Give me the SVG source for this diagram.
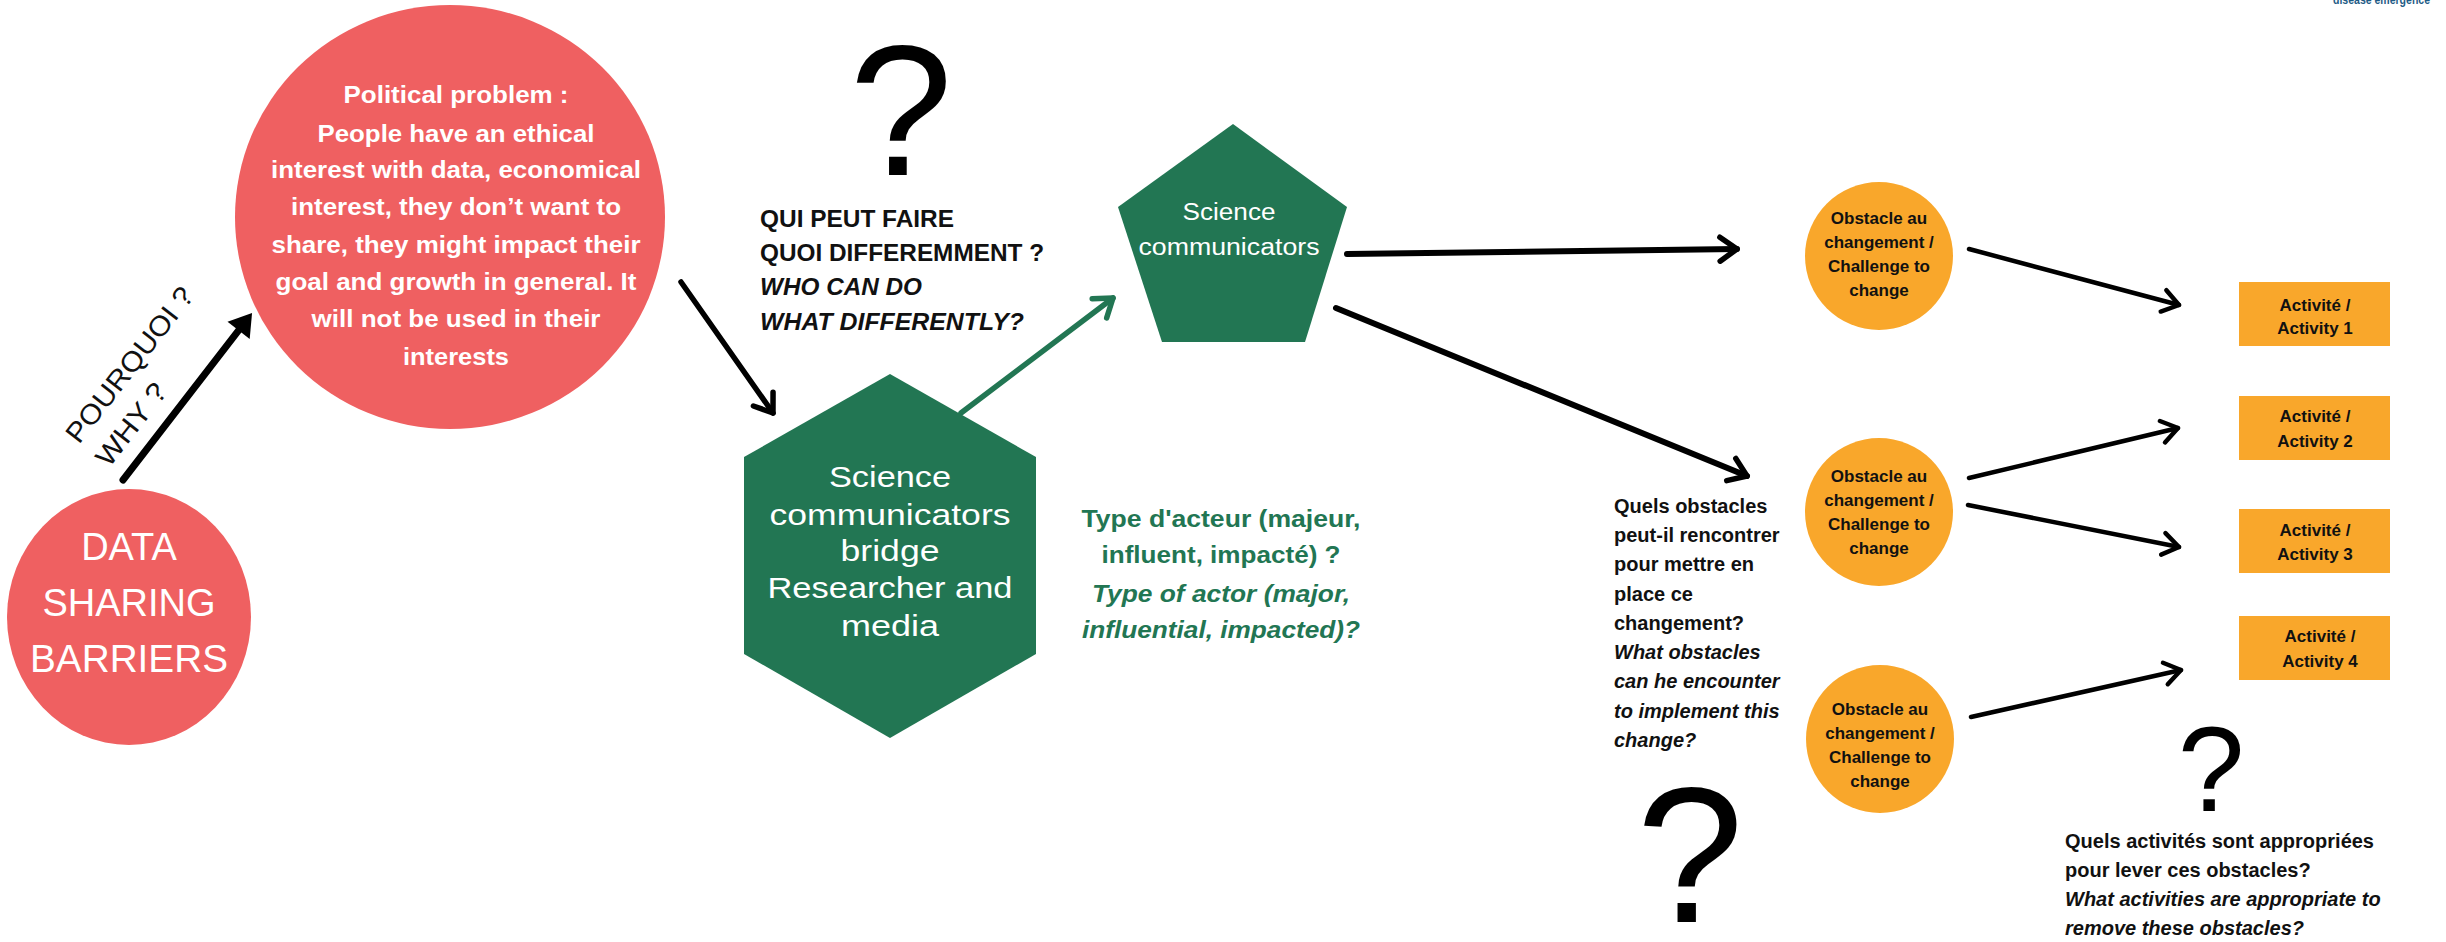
<svg xmlns="http://www.w3.org/2000/svg" width="2446" height="942" viewBox="0 0 2446 942">
<style>
.bg{fill:#ffffff}
.red{fill:#EF6061}
.grn{fill:#227653}
.org{fill:#F9A72B}
.t{font-family:"Liberation Sans",Arial,sans-serif}
.w{fill:#ffffff}
.k{fill:#111111}
.b{font-weight:bold}
.i{font-style:italic}
.mid{text-anchor:middle}
.pol{font-size:24px;font-weight:bold;fill:#ffffff;text-anchor:middle}
.hex{font-size:30px;fill:#ffffff;text-anchor:middle}
.obs{font-size:17px;font-weight:bold;fill:#111111;text-anchor:middle}
.q{font-size:24px;font-weight:bold}
.qm{font-family:"Liberation Sans",Arial,sans-serif;fill:#000;text-anchor:middle}
.sm{font-size:20px;font-weight:bold;fill:#111111}
.ln{fill:none;stroke:#000;stroke-linecap:round}
.lg{fill:none;stroke:#227653;stroke-linecap:round}
</style>
<defs>
<marker id="chevK" markerUnits="userSpaceOnUse" markerWidth="40" markerHeight="40" refX="0" refY="0" orient="auto" overflow="visible">
<path d="M-17,-12 L0,0 L-17,12" fill="none" stroke="#000" stroke-width="5.5" stroke-linecap="round" stroke-linejoin="round"/>
</marker>
<marker id="chevS" markerUnits="userSpaceOnUse" markerWidth="40" markerHeight="40" refX="0" refY="0" orient="auto" overflow="visible">
<path d="M-16,-11 L0,0 L-16,11" fill="none" stroke="#000" stroke-width="4.5" stroke-linecap="round" stroke-linejoin="round"/>
</marker>
<marker id="chevG" markerUnits="userSpaceOnUse" markerWidth="40" markerHeight="40" refX="0" refY="0" orient="auto" overflow="visible">
<path d="M-17,-12 L0,0 L-17,12" fill="none" stroke="#227653" stroke-width="5.5" stroke-linecap="round" stroke-linejoin="round"/>
</marker>
<marker id="tri" markerUnits="userSpaceOnUse" markerWidth="40" markerHeight="40" refX="0" refY="0" orient="auto" overflow="visible">
<path d="M0,-14 L22,0 L0,14 z" fill="#000"/>
</marker>
</defs>
<rect class="bg" x="0" y="0" width="2446" height="942"/>

<g id="connectors">
<path class="ln" stroke-width="7" d="M123,480 L238.6,330.4" marker-end="url(#tri)"/>
<path class="ln" stroke-width="5.5" d="M681,282 L773,413" marker-end="url(#chevK)"/>
<path class="lg" stroke-width="5.5" d="M961,413 L1113,298" marker-end="url(#chevG)"/>
<path class="ln" stroke-width="6" d="M1347,254 L1737,249" marker-end="url(#chevK)"/>
<path class="ln" stroke-width="6" d="M1336,308 L1747,476" marker-end="url(#chevK)"/>
<path class="ln" stroke-width="4.5" d="M1969,249 L2179,305" marker-end="url(#chevS)"/>
<path class="ln" stroke-width="4.5" d="M1969,478 L2178,428" marker-end="url(#chevS)"/>
<path class="ln" stroke-width="4.5" d="M1968,505 L2179,547" marker-end="url(#chevS)"/>
<path class="ln" stroke-width="4.5" d="M1971,717 L2181,670" marker-end="url(#chevS)"/>
</g>

<g id="data-sharing-barriers">
<ellipse class="red" cx="129" cy="617" rx="122" ry="128"/>
<text class="t w mid" font-size="38" x="129" y="560">DATA</text>
<text class="t w mid" font-size="38" x="129" y="616">SHARING</text>
<text class="t w mid" font-size="38" x="129" y="672" textLength="198" lengthAdjust="spacingAndGlyphs">BARRIERS</text>
</g>

<g id="why-label">
<g transform="translate(79,445) rotate(-52)">
<text class="t k" font-size="28" x="0" y="0" textLength="189" lengthAdjust="spacingAndGlyphs">POURQUOI ?</text>
<text class="t k" font-size="28" x="0" y="38" textLength="97" lengthAdjust="spacingAndGlyphs">WHY ?</text>
</g>
</g>

<g id="political-problem">
<ellipse class="red" cx="450" cy="217" rx="215" ry="212"/>
<text class="t pol" x="456" y="103" textLength="225" lengthAdjust="spacingAndGlyphs">Political problem :</text>
<text class="t pol" x="456" y="142" textLength="277" lengthAdjust="spacingAndGlyphs">People have an ethical</text>
<text class="t pol" x="456" y="178" textLength="370" lengthAdjust="spacingAndGlyphs">interest with data, economical</text>
<text class="t pol" x="456" y="215" textLength="330" lengthAdjust="spacingAndGlyphs">interest, they don’t want to</text>
<text class="t pol" x="456" y="253" textLength="369" lengthAdjust="spacingAndGlyphs">share, they might impact their</text>
<text class="t pol" x="456" y="290" textLength="361" lengthAdjust="spacingAndGlyphs">goal and growth in general. It</text>
<text class="t pol" x="456" y="327" textLength="289" lengthAdjust="spacingAndGlyphs">will not be used in their</text>
<text class="t pol" x="456" y="365" textLength="106" lengthAdjust="spacingAndGlyphs">interests</text>
</g>

<g id="who-question">
<text class="qm" font-size="186" x="901" y="175">?</text>
<text class="t q k" x="760" y="227" textLength="194" lengthAdjust="spacingAndGlyphs">QUI PEUT FAIRE</text>
<text class="t q k" x="760" y="261" textLength="284" lengthAdjust="spacingAndGlyphs">QUOI DIFFEREMMENT ?</text>
<text class="t q k i" x="760" y="295" textLength="162" lengthAdjust="spacingAndGlyphs">WHO CAN DO</text>
<text class="t q k i" x="760" y="330" textLength="264" lengthAdjust="spacingAndGlyphs">WHAT DIFFERENTLY?</text>
</g>

<g id="science-communicators-bridge">
<polygon class="grn" points="890,374 1036,457 1036,654 890,738 744,654 744,457"/>
<text class="t hex" x="890" y="487" textLength="122" lengthAdjust="spacingAndGlyphs">Science</text>
<text class="t hex" x="890" y="525" textLength="241" lengthAdjust="spacingAndGlyphs">communicators</text>
<text class="t hex" x="890" y="561" textLength="99" lengthAdjust="spacingAndGlyphs">bridge</text>
<text class="t hex" x="890" y="598" textLength="245" lengthAdjust="spacingAndGlyphs">Researcher and</text>
<text class="t hex" x="890" y="636" textLength="98" lengthAdjust="spacingAndGlyphs">media</text>
</g>

<g id="actor-type">
<text class="t q mid" fill="#227653" x="1221" y="527" textLength="279" lengthAdjust="spacingAndGlyphs">Type d'acteur (majeur,</text>
<text class="t q mid" fill="#227653" x="1221" y="563" textLength="239" lengthAdjust="spacingAndGlyphs">influent, impacté) ?</text>
<text class="t q mid i" fill="#227653" x="1221" y="602" textLength="258" lengthAdjust="spacingAndGlyphs">Type of actor (major,</text>
<text class="t q mid i" fill="#227653" x="1221" y="638" textLength="278" lengthAdjust="spacingAndGlyphs">influential, impacted)?</text>
</g>

<g id="science-communicators">
<polygon class="grn" points="1233,124 1347,207 1305,342 1162,342 1118,207"/>
<text class="t w mid" font-size="23" x="1229" y="220" textLength="93" lengthAdjust="spacingAndGlyphs">Science</text>
<text class="t w mid" font-size="23" x="1229" y="255" textLength="181" lengthAdjust="spacingAndGlyphs">communicators</text>
</g>

<g id="obstacle-1">
<circle class="org" cx="1879" cy="256" r="74"/>
<text class="t obs" x="1879" y="224">Obstacle au</text>
<text class="t obs" x="1879" y="248">changement /</text>
<text class="t obs" x="1879" y="272">Challenge to</text>
<text class="t obs" x="1879" y="296">change</text>
</g>

<g id="obstacle-2">
<circle class="org" cx="1879" cy="512" r="74"/>
<text class="t obs" x="1879" y="482">Obstacle au</text>
<text class="t obs" x="1879" y="506">changement /</text>
<text class="t obs" x="1879" y="530">Challenge to</text>
<text class="t obs" x="1879" y="554">change</text>
</g>

<g id="obstacle-3">
<circle class="org" cx="1880" cy="739" r="74"/>
<text class="t obs" x="1880" y="715">Obstacle au</text>
<text class="t obs" x="1880" y="739">changement /</text>
<text class="t obs" x="1880" y="763">Challenge to</text>
<text class="t obs" x="1880" y="787">change</text>
</g>

<g id="obstacles-question">
<text class="t sm" x="1614" y="513">Quels obstacles</text>
<text class="t sm" x="1614" y="542">peut-il rencontrer</text>
<text class="t sm" x="1614" y="571">pour mettre en</text>
<text class="t sm" x="1614" y="601">place ce</text>
<text class="t sm" x="1614" y="630">changement?</text>
<text class="t sm i" x="1614" y="659">What obstacles</text>
<text class="t sm i" x="1614" y="688">can he encounter</text>
<text class="t sm i" x="1614" y="718">to implement this</text>
<text class="t sm i" x="1614" y="747">change?</text>
<text class="qm" font-size="193" x="1690" y="922">?</text>
</g>

<g id="activity-1">
<rect class="org" x="2239" y="282" width="151" height="64"/>
<text class="t obs" x="2315" y="311">Activité /</text>
<text class="t obs" x="2315" y="334">Activity 1</text>
</g>
<g id="activity-2">
<rect class="org" x="2239" y="396" width="151" height="64"/>
<text class="t obs" x="2315" y="422">Activité /</text>
<text class="t obs" x="2315" y="447">Activity 2</text>
</g>
<g id="activity-3">
<rect class="org" x="2239" y="509" width="151" height="64"/>
<text class="t obs" x="2315" y="536">Activité /</text>
<text class="t obs" x="2315" y="560">Activity 3</text>
</g>
<g id="activity-4">
<rect class="org" x="2239" y="616" width="151" height="64"/>
<text class="t obs" x="2320" y="642">Activité /</text>
<text class="t obs" x="2320" y="667">Activity 4</text>
</g>

<g id="activities-question">
<text class="qm" font-size="120" x="2211" y="811">?</text>
<text class="t sm" x="2065" y="848">Quels activités sont appropriées</text>
<text class="t sm" x="2065" y="877">pour lever ces obstacles?</text>
<text class="t sm i" x="2065" y="906">What activities are appropriate to</text>
<text class="t sm i" x="2065" y="935">remove these obstacles?</text>
</g>

<g id="logo-fragment">
<text class="t b" font-size="12" fill="#1F5C86" x="2333" y="4" textLength="97" lengthAdjust="spacingAndGlyphs">disease emergence</text>
</g>
</svg>
